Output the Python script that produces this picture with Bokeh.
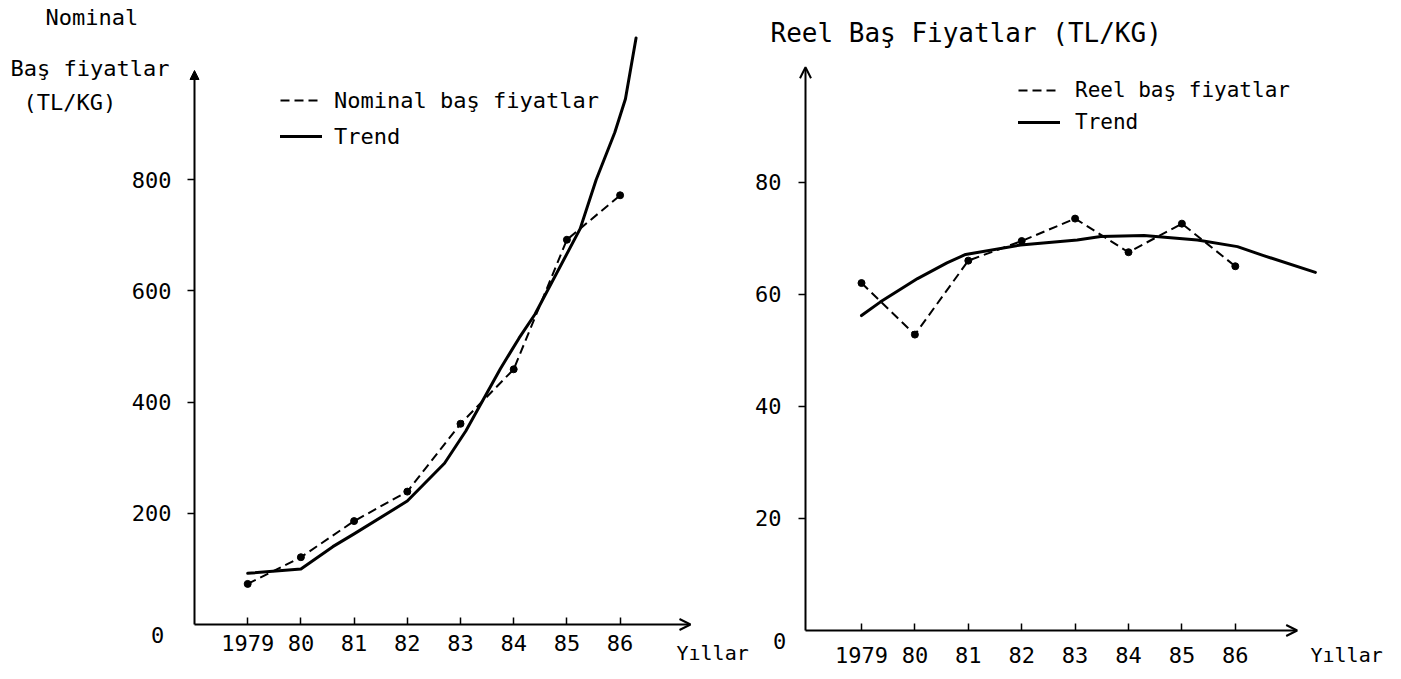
from bokeh.plotting import figure
from bokeh.models import (Arrow, OpenHead, NormalHead, Label, FixedTicker,
                          Legend, LegendItem, Range1d)
from bokeh.layouts import row
from bokeh.embed import file_html
from bokeh.resources import INLINE

# ---------------- data ----------------
years = [1979, 1980, 1981, 1982, 1983, 1984, 1985, 1986]
year_labels = ["1979", "80", "81", "82", "83", "84", "85", "86"]

nominal_prices = [73, 121, 186, 239, 361, 459, 692, 772]
nominal_trend_years = [1979, 1980, 1980.6, 1981, 1982, 1982.7, 1983.1, 1983.75,
                       1984.1, 1984.4, 1985.25, 1985.55, 1985.9, 1986.1, 1986.3]
nominal_trend = [92, 100, 140, 163, 222, 290, 348, 460,
                 515, 558, 712, 800, 885, 945, 1055]
nominal_yticks = [200, 400, 600, 800]

real_prices = [62.0, 52.8, 66.0, 69.5, 73.5, 67.5, 72.6, 65.0]
real_trend_years = [1979, 1979.35, 1980.05, 1980.6, 1980.95, 1981.98, 1983.04,
                    1983.48, 1984.29, 1985.29, 1986.04, 1986.53, 1987.5]
real_trend = [56.2, 58.6, 62.8, 65.6, 67.1, 68.8, 69.7,
              70.3, 70.5, 69.7, 68.5, 66.9, 63.9]
real_yticks = [20, 40, 60, 80]

FONT = "DejaVu Sans Mono"
FIG_H = 674


class Geom:
    """Layout helper: the frame fills the whole figure; maps page pixels to data."""
    def __init__(self, page_left, width, year_px, px_per_year, zero_py, px_per_unit):
        self.page_left, self.width = page_left, width
        self.year_px, self.ppy = year_px, px_per_year
        self.zero_py, self.ppu = zero_py, px_per_unit
        self.xr = (self.x(page_left), self.x(page_left + width))
        self.yr = (self.y(FIG_H), self.y(0))

    def x(self, px):
        return 1979 + (px - self.year_px) / self.ppy

    def y(self, py):
        return (self.zero_py - py) / self.ppu


def make_fig(g, axis_x):
    p = figure(width=g.width, height=FIG_H,
               x_range=Range1d(*g.xr), y_range=Range1d(*g.yr),
               output_backend="svg", toolbar_location=None,
               min_border_left=0, min_border_right=0,
               min_border_top=0, min_border_bottom=0)
    p.grid.visible = False
    p.outline_line_color = None
    p.background_fill_color = "white"
    p.border_fill_color = "white"
    for ax in (p.xaxis[0], p.yaxis[0]):
        ax.axis_line_color = None
        ax.minor_tick_line_color = None
        ax.major_tick_line_color = "black"
        ax.major_tick_line_width = 1.5
        ax.major_label_text_font = FONT
        ax.major_label_text_font_size = "22px"
        ax.major_label_text_color = "black"
    p.xaxis.fixed_location = 0
    p.yaxis.fixed_location = axis_x
    p.xaxis.ticker = FixedTicker(ticks=years)
    p.xaxis.major_label_overrides = {yr: lab for yr, lab in zip(years, year_labels)}
    p.xaxis.major_tick_in = 7
    p.xaxis.major_tick_out = 0
    p.yaxis.major_tick_in = 0
    p.yaxis.major_tick_out = 7
    return p


def add_text(p, g, px, py, text, size, align="left"):
    p.add_layout(Label(x=g.x(px), y=g.y(py), text=text, text_font=FONT,
                       text_font_size=size, text_color="black",
                       text_align=align, text_baseline="middle"))


def add_legend(p, g, items, left_px, bottom_py, size, label_h, spacing, standoff):
    leg = Legend(items=items, location=(left_px - g.page_left, FIG_H - bottom_py),
                 border_line_color=None, background_fill_alpha=0, padding=0,
                 margin=0, spacing=spacing, glyph_width=42, glyph_height=label_h,
                 label_height=label_h, label_standoff=standoff,
                 label_text_font=FONT, label_text_font_size=size,
                 label_text_color="black")
    p.add_layout(leg)


# ---------------- left panel: nominal ----------------
gl = Geom(0, 750, 247.2, 53.2, 624, 0.556)
ax_l = gl.x(194)
p1 = make_fig(gl, ax_l)
p1.yaxis.ticker = FixedTicker(ticks=nominal_yticks)
p1.yaxis.major_label_standoff = 16
p1.xaxis.major_label_standoff = 10

p1.add_layout(Arrow(end=NormalHead(size=9, fill_color="black", line_color="black"),
                    x_start=ax_l, y_start=0, x_end=ax_l, y_end=gl.y(70),
                    line_width=2, line_color="black"))
p1.add_layout(Arrow(end=OpenHead(size=11, line_width=2, line_color="black"),
                    x_start=ax_l, y_start=0, x_end=gl.x(690), y_end=0,
                    line_width=2, line_color="black"))

r_dash1 = p1.line(years, nominal_prices, line_color="black", line_width=2,
                  line_dash="9 5")
p1.scatter(years, nominal_prices, size=7, color="black")
r_trend1 = p1.line(nominal_trend_years, nominal_trend, line_color="black",
                   line_width=3, line_join="round", line_cap="round")

add_legend(p1, gl, [LegendItem(label="Nominal baş fiyatlar", renderers=[r_dash1]),
                    LegendItem(label="Trend", renderers=[r_trend1])],
           280, 149, "22px", 26, 10, 12)

add_text(p1, gl, 45, 17, "Nominal", "22px")
add_text(p1, gl, 10, 68, "Baş fiyatlar", "22px")
add_text(p1, gl, 23, 102, "(TL/KG)", "22px")
add_text(p1, gl, 157, 634, "0", "22px", align="center")
add_text(p1, gl, 676, 652, "Yıllar", "20px")

# ---------------- right panel: real ----------------
gr = Geom(750, 643, 861, 53.4, 630, 5.604)
ax_r = gr.x(805)
p2 = make_fig(gr, ax_r)
p2.yaxis.ticker = FixedTicker(ticks=real_yticks)
p2.yaxis.major_label_standoff = 17
p2.xaxis.major_label_standoff = 16

p2.add_layout(Arrow(end=OpenHead(size=11, line_width=2, line_color="black"),
                    x_start=ax_r, y_start=0, x_end=ax_r, y_end=gr.y(66.7),
                    line_width=2, line_color="black"))
p2.add_layout(Arrow(end=OpenHead(size=11, line_width=2, line_color="black"),
                    x_start=ax_r, y_start=0, x_end=gr.x(1296.7), y_end=0,
                    line_width=2, line_color="black"))

r_dash2 = p2.line(years, real_prices, line_color="black", line_width=2,
                  line_dash="9 5")
p2.scatter(years, real_prices, size=7, color="black")
r_trend2 = p2.line(real_trend_years, real_trend, line_color="black",
                   line_width=3, line_join="round", line_cap="round")

add_legend(p2, gr, [LegendItem(label="Reel baş fiyatlar", renderers=[r_dash2]),
                    LegendItem(label="Trend", renderers=[r_trend2])],
           1018, 134, "21px", 24, 8, 15)

add_text(p2, gr, 770, 32, "Reel Baş Fiyatlar (TL/KG)", "26px")
add_text(p2, gr, 779, 640, "0", "22px", align="center")
add_text(p2, gr, 1310, 654, "Yıllar", "20px")

layout = row(p1, p2)
open("out.html", "w").write(file_html(layout, INLINE))
